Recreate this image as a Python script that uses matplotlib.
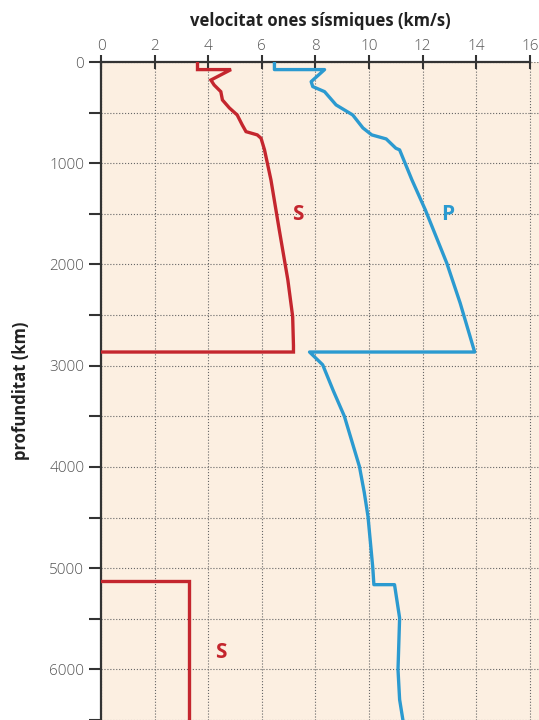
import numpy as np
import matplotlib
matplotlib.use("Agg")
import matplotlib.pyplot as plt

# S-wave velocity, mantle + crust (km/s vs depth km)
s_vel = [3.6, 3.6, 4.85, 4.1, 4.22, 4.47, 4.53, 4.79, 5.08, 5.27, 5.41, 5.83,
         5.97, 6.1, 6.34, 6.65, 6.97, 7.15, 7.18, 7.18, 0.0]
s_dep = [0, 75, 75, 178, 227, 293, 375, 454, 523, 622, 688, 720,
         753, 868, 1165, 1658, 2152, 2514, 2800, 2865, 2865]

# S-wave in inner core
si_vel = [0.0, 3.3, 3.3]
si_dep = [5130, 5130, 6600]

# P-wave velocity
p_vel = [6.47, 6.47, 8.34, 7.84, 7.9, 8.34, 8.77, 9.39, 9.77, 10.1, 10.64,
         11.0, 11.14, 11.6, 12.1, 12.9, 13.4, 13.94, 7.78, 8.27, 8.67, 9.08,
         9.64, 9.82, 9.96, 10.14, 10.18, 10.95, 11.14, 11.08, 11.14, 11.26]
p_dep = [0, 75, 75, 194, 243, 293, 424, 523, 651, 720, 760,
         852, 868, 1165, 1461, 1987, 2382, 2865, 2865, 2991, 3250, 3500,
         3995, 4250, 4488, 4998, 5163, 5163, 5492, 6002, 6298, 6495]

x_ticks = [0, 2, 4, 6, 8, 10, 12, 14, 16]
y_ticks = [0, 1000, 2000, 3000, 4000, 5000, 6000]

RED = "#c4262e"
BLUE = "#2b9ad0"
BG = "#fcefe1"
plt.rcParams["font.family"] = ["Open Sans", "DejaVu Sans"]

fig = plt.figure(figsize=(5.39, 7.2), dpi=100)
ax = fig.add_axes([101 / 539, 0, 1 - 101 / 539, 1 - 62 / 720])
ax.set_facecolor(BG)

ax.plot(s_vel, s_dep, color=RED, lw=2.4, solid_joinstyle="miter", zorder=3)
ax.plot(si_vel, si_dep, color=RED, lw=2.4, solid_joinstyle="miter", zorder=3)
ax.plot(p_vel, p_dep, color=BLUE, lw=2.4, solid_joinstyle="round", zorder=3)

ax.text(7.33, 1510, "S", color=RED, fontsize=15, fontweight="bold", ha="center", va="center")
ax.text(12.94, 1510, "P", color=BLUE, fontsize=15, fontweight="bold", ha="center", va="center")
ax.text(4.47, 5834, "S", color=RED, fontsize=15, fontweight="bold", ha="center", va="center")

ax.set_xlim(0, 16.34)
ax.set_ylim(6500, 0)
ax.xaxis.tick_top()
ax.xaxis.set_label_position("top")
ax.set_xticks(x_ticks)
ax.set_yticks(y_ticks)
ax.set_yticks(np.arange(500, 6600, 1000), minor=True)
ax.tick_params(axis="x", direction="inout", length=10, width=1.5, color="#333333",
               labelsize=11, labelcolor="#555555", pad=1)
ax.tick_params(axis="y", which="major", direction="out", length=9, width=1.5, color="#333333",
               labelsize=11, labelcolor="#555555", pad=3)
ax.tick_params(axis="y", which="minor", direction="out", length=9, width=1.5, color="#333333")
for lab in ax.get_xticklabels() + ax.get_yticklabels():
    lab.set_fontweight("light")

ax.grid(True, which="both", ls=":", lw=0.8, color="#666666")
ax.set_axisbelow(True)

for side in ("right", "bottom"):
    ax.spines[side].set_visible(False)
ax.spines["top"].set_bounds(0, 16)
for side in ("top", "left"):
    ax.spines[side].set_color("#333333")
    ax.spines[side].set_linewidth(1.6)

ax.set_xlabel("velocitat ones sísmiques (km/s)", fontsize=12, fontweight="bold",
              color="#222222", labelpad=9)
ax.set_ylabel("profunditat (km)", fontsize=12, fontweight="bold", color="#222222", labelpad=14)

fig.savefig("out.png", dpi=100, facecolor="white")
